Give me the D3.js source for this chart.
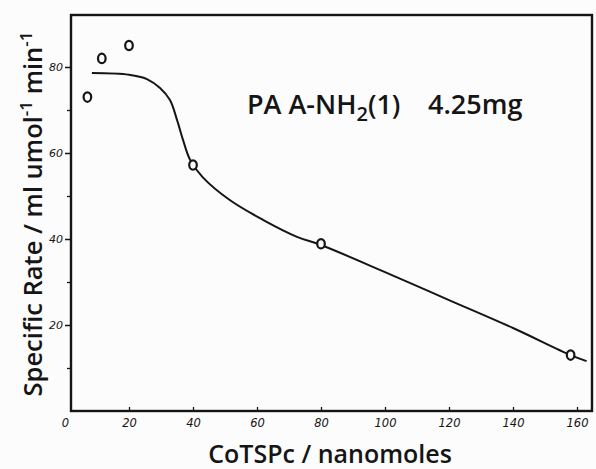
<!DOCTYPE html>
<html>
<head>
<meta charset="utf-8">
<script src="https://cdn.jsdelivr.net/npm/d3@7"></script>
<style>
  html, body { margin: 0; padding: 0; background: #fcfcfc; }
  svg { display: block; }
</style>
</head>
<body>
<svg id="chart" width="596" height="469"></svg>
<script>
// Measured rate points
const amountNmol = [7, 11.5, 20, 40, 80, 158];
const specificRate = [73, 82, 85, 57.2, 38.9, 13];

// Hand-drawn trend curve through the data
const fitX = [8.4, 20, 25.6, 29.7, 32.8, 35, 36.9, 39.1, 43, 51.6, 62, 72.5, 80, 100, 120, 140, 158, 163];
const fitY = [78.6, 78.2, 77.2, 75.1, 72.3, 67.7, 63, 58.4, 54.4, 49, 44.4, 40.5, 38.6, 32.3, 25.8, 19.3, 13, 11.6];

// Axis ticks
const xTickValues = [0, 20, 40, 60, 80, 100, 120, 140, 160];
const xTickLabels = ["0", "20", "40", "60", "80", "100", "120", "140", "160"];
const yMajorTicks = [20, 40, 60, 80];
const yMajorLabels = ["20", "40", "60", "80"];
const yMinorTicks = [10, 30, 50, 70];

const svg = d3.select("#chart");
const frame = { left: 71, right: 592, top: 15, bottom: 411 };

const x = d3.scaleLinear().domain([0, 160]).range([65, 577]);
const y = d3.scaleLinear().domain([0, 80]).range([411, 67]);

const ink = "#151515";

// Plot frame
svg.append("rect")
  .attr("x", frame.left).attr("y", frame.top)
  .attr("width", frame.right - frame.left).attr("height", frame.bottom - frame.top)
  .attr("fill", "none").attr("stroke", ink).attr("stroke-width", 2.4);

// Y axis
const yAxis = d3.axisLeft(y).tickValues(yMajorTicks)
  .tickFormat((d, i) => yMajorLabels[i]).tickSize(6).tickPadding(2);
const gy = svg.append("g").attr("transform", `translate(${frame.left},0)`).call(yAxis);
gy.select(".domain").remove();
gy.selectAll(".tick line").attr("stroke", ink).attr("stroke-width", 1.5);
gy.selectAll(".tick text")
  .attr("font-family", "DejaVu Sans").attr("font-style", "italic")
  .attr("font-size", 11).attr("fill", ink);

const yMinor = d3.axisLeft(y).tickValues(yMinorTicks).tickFormat("").tickSize(4);
const gym = svg.append("g").attr("transform", `translate(${frame.left},0)`).call(yMinor);
gym.select(".domain").remove();
gym.selectAll(".tick line").attr("stroke", ink).attr("stroke-width", 1.3);

// X axis
const xAxis = d3.axisBottom(x).tickValues(xTickValues)
  .tickFormat((d, i) => xTickLabels[i]).tickSize(-4).tickPadding(8);
const gx = svg.append("g").attr("transform", `translate(0,${frame.bottom})`).call(xAxis);
gx.select(".domain").remove();
gx.selectAll(".tick line").attr("stroke", ink).attr("stroke-width", 1.3)
  .filter(d => d === 0).remove();
gx.selectAll(".tick text")
  .attr("font-family", "DejaVu Sans").attr("font-style", "italic")
  .attr("font-size", 11.5).attr("fill", ink);

// Trend curve
const curvePts = fitX.map((v, i) => [v, fitY[i]]);
svg.append("path")
  .datum(curvePts)
  .attr("fill", "none").attr("stroke", ink).attr("stroke-width", 2)
  .attr("d", d3.line().x(d => x(d[0])).y(d => y(d[1])).curve(d3.curveCatmullRom.alpha(0.5)));

// Data markers: small open ovals
svg.append("g").selectAll("ellipse")
  .data(amountNmol.map((v, i) => [v, specificRate[i]]))
  .join("ellipse")
  .attr("cx", d => x(d[0])).attr("cy", d => y(d[1]))
  .attr("rx", 3.8).attr("ry", 4.7)
  .attr("fill", "#fcfcfc").attr("stroke", ink).attr("stroke-width", 2.2);

// Sample annotation
const note = svg.append("text")
  .attr("x", 247).attr("y", 114)
  .attr("font-family", "Open Sans").attr("font-weight", 600)
  .attr("font-size", 27).attr("fill", ink);
note.append("tspan").text("PA A-NH");
note.append("tspan").attr("font-size", 20).attr("dy", 7).text("2");
note.append("tspan").attr("dy", -7).text("(1)");
note.append("tspan").attr("x", 428).text("4.25mg");

// Axis titles
svg.append("text")
  .attr("x", 330).attr("y", 463)
  .attr("text-anchor", "middle")
  .attr("font-family", "Open Sans").attr("font-weight", 600)
  .attr("font-size", 25).attr("fill", ink)
  .text("CoTSPc / nanomoles");

const yt = svg.append("text")
  .attr("transform", "translate(42,214) rotate(-90)")
  .attr("text-anchor", "middle")
  .attr("font-family", "Open Sans").attr("font-weight", 600)
  .attr("font-size", 25.5).attr("fill", ink);
yt.append("tspan").text("Specific Rate / ml umol");
yt.append("tspan").attr("font-size", 17).attr("dy", -10).text("-1");
yt.append("tspan").attr("dy", 10).text(" min");
yt.append("tspan").attr("font-size", 17).attr("dy", -10).text("-1");
</script>
</body>
</html>
